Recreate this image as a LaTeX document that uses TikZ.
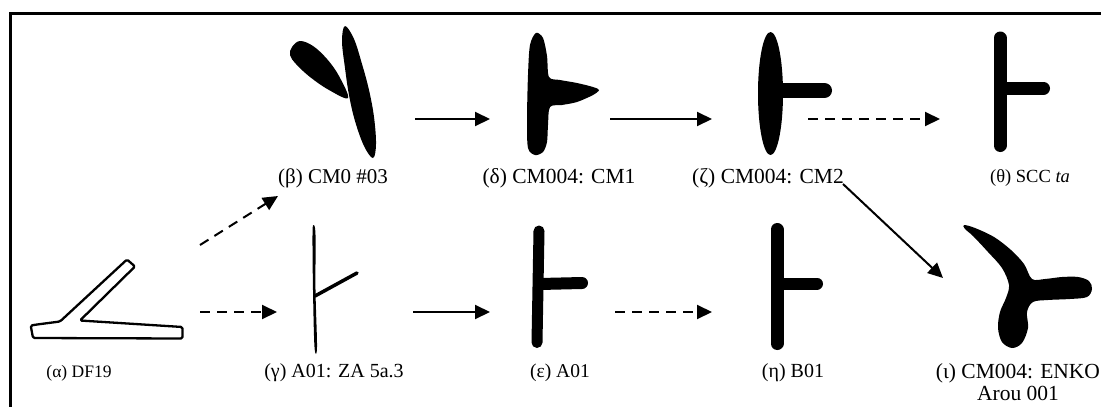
\documentclass[tikz,border=0pt]{standalone}
\usepackage{fontspec}
\setmainfont{Liberation Serif}
\usetikzlibrary{arrows.meta}
\begin{document}
\begin{tikzpicture}[x=1pt,y=-1pt,
  lbl/.style={font=\fontsize{#1}{#1}\selectfont, inner sep=0pt, anchor=base},
  flow/.style={line width=2pt, -{Triangle[length=15pt,width=14pt]}},
  hint/.style={flow, dash pattern=on 10pt off 7pt},
  ink/.style={fill=black},
  brush/.style={line width=#1, line cap=round}
]
\useasboundingbox (0,0) rectangle (1101,407);

% frame (top and left edges)
\draw[line width=3pt] (10,407) -- (10,13) -- (1101,13);

% (alpha) DF19: outlined sign
\draw[line width=2.3pt, line join=round, rounded corners=1.5pt]
  (30.7,325.5) -- (33,338) -- (182.5,338.5) -- (182.5,327) -- (80,320.5)
  -- (135,266.5) -- (127,259.5) -- (60,321.5) -- (37,324.5) -- cycle;

% (beta) CM0 #03: two leaf strokes
\fill[ink] plot[smooth cycle, tension=0.6] coordinates {
  (292,47) (300,41) (313,46) (327,59) (339,76) (348,98)
  (329,90) (310,77) (296,64) (290,55)};
\fill[ink] plot[smooth cycle, tension=0.6] coordinates {
  (345,26) (354,39) (362,64) (369,90) (374,117) (376,144) (373,158)
  (364,146) (355,121) (349,95) (345,68) (342,41)};

% (delta) CM004: CM1
\fill[ink] plot[smooth cycle, tension=0.5] coordinates {
  (536,33) (543,38) (547,56) (549,77) (560,80) (577,83) (593,87) (599,90)
  (593,95) (577,102) (562,105) (550,107) (548,125) (547,142) (543,152)
  (535,155) (528,148) (527,120) (528,75) (530,45)};

% (zeta) CM004: CM2
\fill[ink] (770.5,93.5) ellipse [x radius=12.5, y radius=61.5];
\draw[brush=15pt] (778,90.5) -- (824.5,90.5);

% (theta) SCC ta
\draw[brush=13pt] (1000,38) -- (1000,145.5);
\draw[brush=13pt] (1002,88.3) -- (1043.5,88.3);

% (gamma) A01: ZA 5a.3
\fill[ink] plot[smooth cycle, tension=0.6] coordinates {
  (313.5,225) (315.5,235) (315.5,290) (317,347) (314.5,347) (313,290) (312.5,235)};
\draw[brush=3.5pt] (315,296) -- (357,273);

% (epsilon) A01
\draw[brush=11pt] (539,231) -- (537,342.5);
\draw[brush=12pt] (540,284) -- (582,283);

% (eta) B01
\draw[brush=13pt] (777,229.5) -- (777,343.5);
\draw[brush=12pt] (780,283.5) -- (817,283.5);

% (iota) CM004: ENKO Arou 001
\fill[ink] plot[smooth cycle, tension=0.55] coordinates {
  (964,225) (975,228) (994,237) (1011,250) (1024,264) (1032,279)
  (1045,279) (1062,277) (1078,277) (1089,281) (1092,289) (1087,297)
  (1070,299) (1048,300) (1033,302) (1027,312) (1028,328) (1022,343)
  (1012,348) (1002,342) (998,328) (1000,312) (1006,298) (1009,285)
  (1002,268) (988,252) (973,236) (965,229)};

% captions
\node[lbl=17.5] (la) at (79,377) {(α) DF19};
\node[lbl=21] (lb) at (333,183) {(β) CM0 \#03};
\node[lbl=21.5] (ld) at (559,183) {(δ) CM004: CM1};
\node[lbl=21.5] (lz) at (768,183) {(ζ) CM004: CM2};
\node[lbl=18.5] (lt) at (1030,182) {(θ) SCC \textit{ta}};
\node[lbl=20] (lg) at (334,377.5) {(γ) A01: ZA 5a.3};
\node[lbl=19.5] (le) at (560,377.5) {(ε) A01};
\node[lbl=20] (lh) at (793,377.5) {(η) B01};
\node[lbl=21.5] (li) at (1018,378) {(ι) CM004: ENKO};
\node[lbl=21.5] (li2) at (1018,400) {Arou 001};

% connector ports
\coordinate (a-up)  at (200,245);
\coordinate (b-in)  at (278,196);
\coordinate (a-out) at (200,312);
\coordinate (g-in)  at (277,312);
\coordinate (b-out) at (415,119);
\coordinate (d-in)  at (490,119);
\coordinate (d-out) at (610,119);
\coordinate (z-in)  at (712,119);
\coordinate (z-out) at (808,119);
\coordinate (t-in)  at (940,119);
\coordinate (z-dn)  at (843,184);
\coordinate (i-in)  at (943,278);
\coordinate (g-out) at (413,312);
\coordinate (e-in)  at (490,312);
\coordinate (e-out) at (615,312);
\coordinate (h-in)  at (712,312);

% derivations
\draw[hint] (a-up) -- (b-in);
\draw[hint] (a-out) -- (g-in);
\draw[flow] (b-out) -- (d-in);
\draw[flow] (d-out) -- (z-in);
\draw[hint] (z-out) -- (t-in);
\draw[flow] (z-dn) -- (i-in);
\draw[flow] (g-out) -- (e-in);
\draw[hint] (e-out) -- (h-in);
\end{tikzpicture}
\end{document}
